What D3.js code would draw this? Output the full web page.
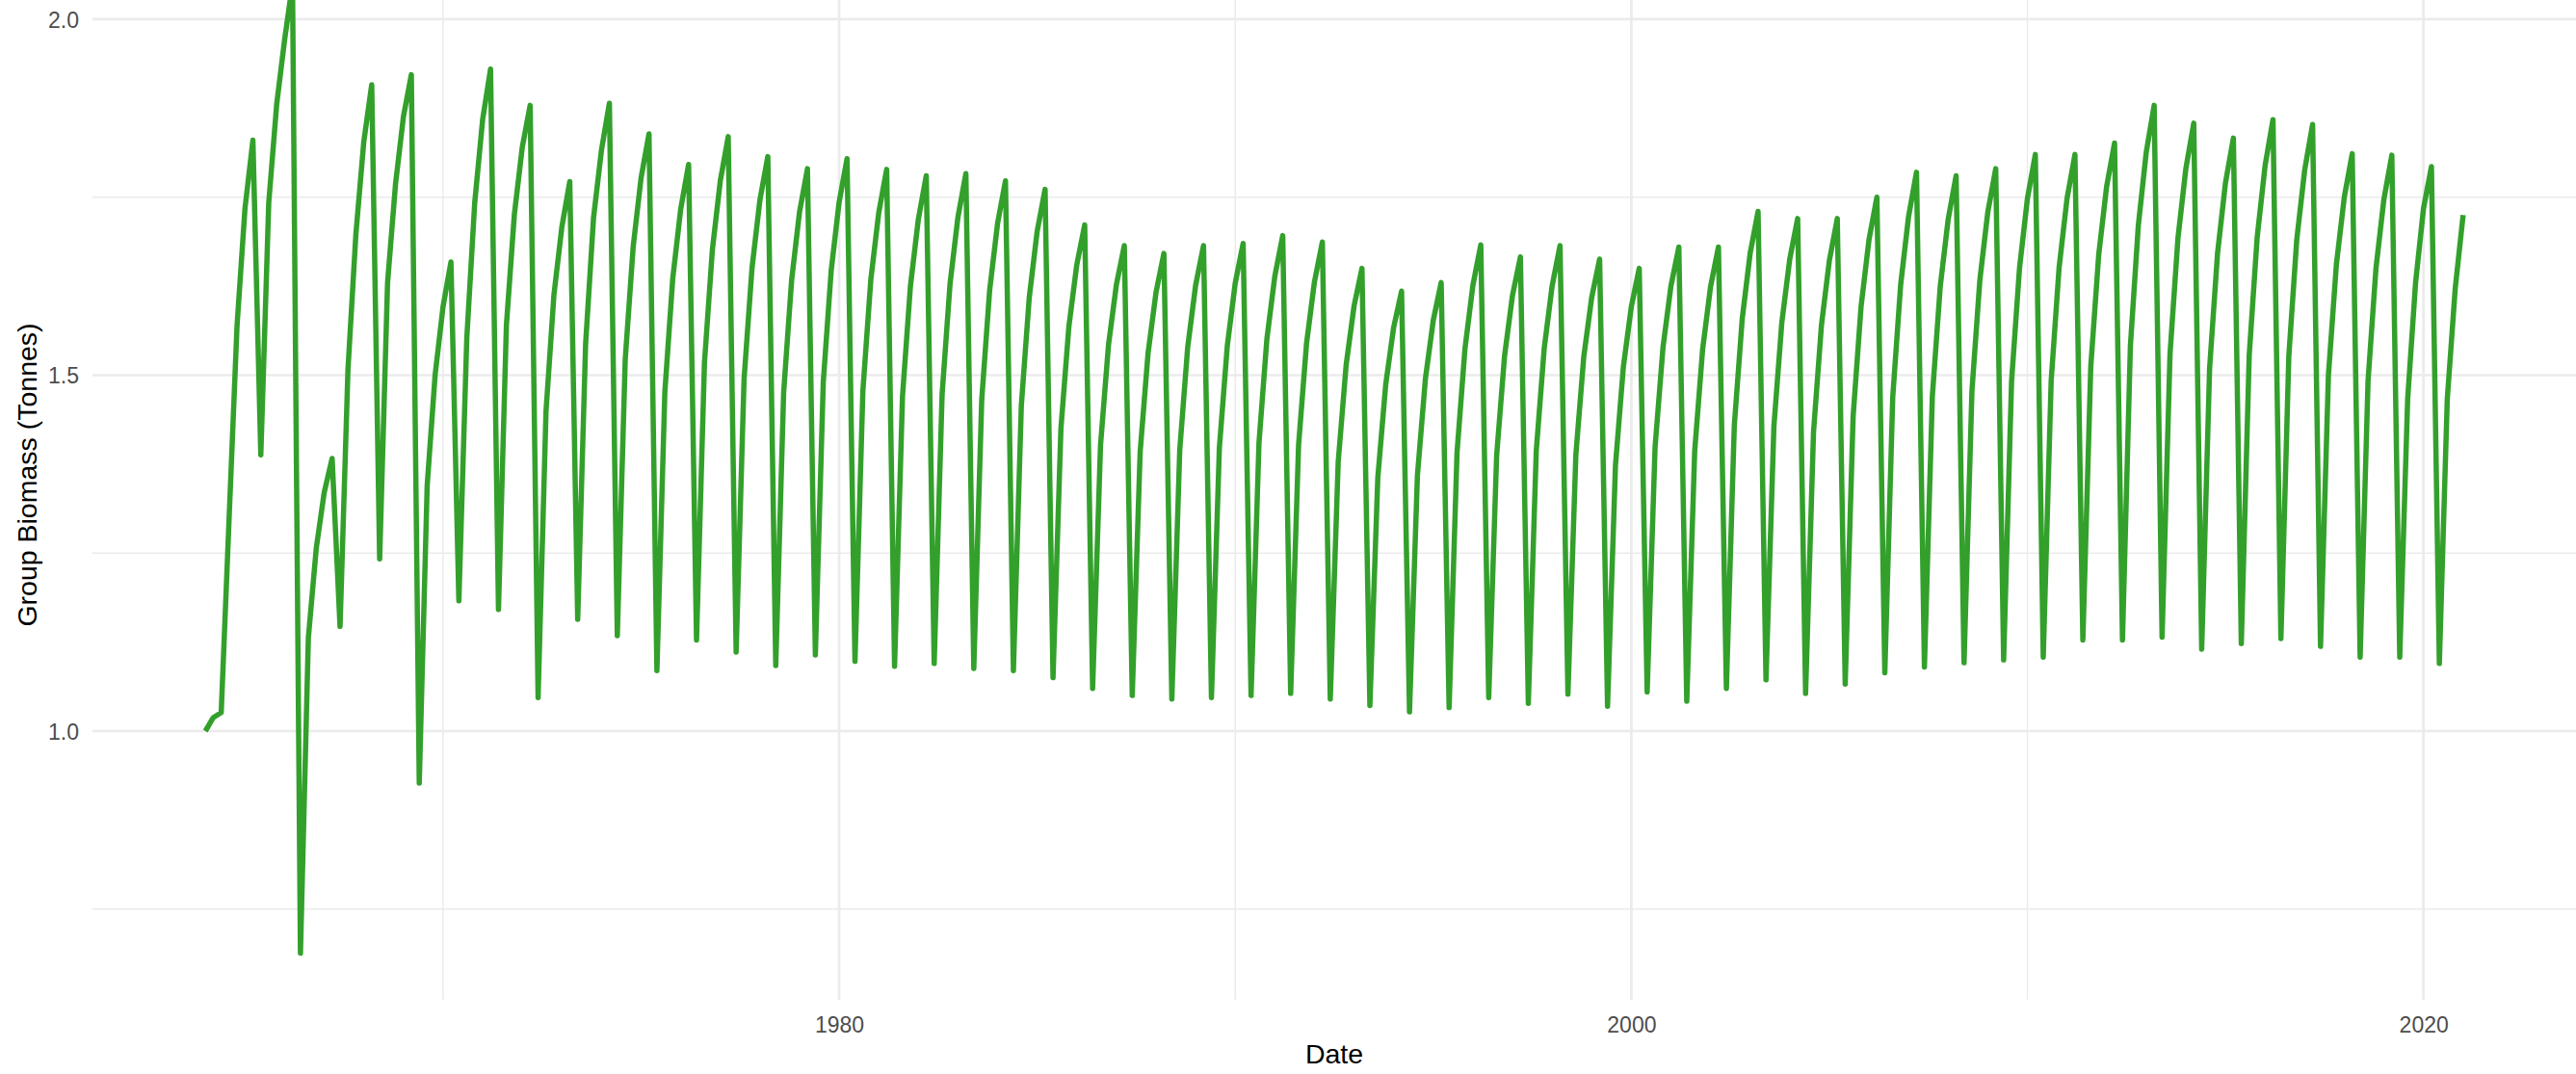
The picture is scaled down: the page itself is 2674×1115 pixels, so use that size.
<!DOCTYPE html>
<html>
<head>
<meta charset="utf-8">
<script src="https://cdn.jsdelivr.net/npm/d3@7"></script>
<style>
  html, body { margin: 0; padding: 0; background: #ffffff; }
  svg { display: block; }
  text { font-family: "Liberation Sans", Arial, "DejaVu Sans", sans-serif; }
</style>
</head>
<body>
<svg id="chart" width="2674" height="1115"></svg>
<script>
// ---------------- data ----------------
// first three samples of 1964 (t = 1964.0, 1964.2, 1964.4)
const startValues = [1.000, 1.019, 1.026];

// annual peak (t = Y + 0.2) for Y = 1965 .. 2020
const peakValues = [
  1.830, 2.050, 1.383, 1.908, 1.922, 1.659, 1.930, 1.879, 1.772, 1.882,
  1.839, 1.796, 1.835, 1.807, 1.790,
  1.804, 1.789, 1.780, 1.783, 1.773,
  1.761, 1.711, 1.682, 1.671, 1.682,
  1.685, 1.696, 1.687, 1.650, 1.618,
  1.630, 1.683, 1.666, 1.682, 1.663,
  1.650, 1.680, 1.680, 1.730, 1.720,
  1.720, 1.750, 1.785, 1.780, 1.790,
  1.810, 1.810, 1.826, 1.879, 1.854,
  1.833, 1.859, 1.852, 1.811, 1.809,
  1.793
];

// annual trough (t = Y + 0.4) for Y = 1965 .. 2020
const troughValues = [
  1.388, 0.688, 1.147, 1.242, 0.927, 1.183, 1.171, 1.047, 1.157, 1.134,
  1.085, 1.128, 1.111, 1.092, 1.107,
  1.098, 1.091, 1.095, 1.088, 1.085,
  1.075, 1.060, 1.050, 1.045, 1.047,
  1.050, 1.053, 1.045, 1.036, 1.027,
  1.033, 1.047, 1.039, 1.052, 1.035,
  1.055, 1.042, 1.060, 1.072, 1.053,
  1.066, 1.082, 1.090, 1.096, 1.100,
  1.104, 1.128, 1.128, 1.132, 1.115,
  1.123, 1.130, 1.119, 1.104, 1.104,
  1.095
];

// rising samples after each trough, for Y = 1964 .. 2020
// riseA at t = Y + 0.6, riseB at t = Y + 0.8, riseC at t = Y + 1.0
const riseA = [
  1.300, 1.742, 1.131, 1.508, 1.630, 1.345, 1.552, 1.570, 1.449, 1.544,
  1.522, 1.476, 1.517, 1.494, 1.476, 1.490,
  1.478, 1.470, 1.473, 1.465, 1.457,
  1.425, 1.402, 1.392, 1.395, 1.398,
  1.405, 1.402, 1.378, 1.356, 1.359,
  1.391, 1.387, 1.393, 1.388, 1.373,
  1.399, 1.393, 1.429, 1.428, 1.420,
  1.442, 1.469, 1.470, 1.478, 1.491,
  1.492, 1.512, 1.541, 1.529, 1.510,
  1.528, 1.527, 1.500, 1.492, 1.466,
  1.466
];
const riseB = [
  1.570, 1.880, 1.257, 1.698, 1.768, 1.500, 1.742, 1.725, 1.613, 1.721,
  1.680, 1.636, 1.676, 1.650, 1.633, 1.647,
  1.634, 1.625, 1.628, 1.619, 1.609,
  1.568, 1.542, 1.531, 1.539, 1.541,
  1.551, 1.544, 1.514, 1.487, 1.494,
  1.537, 1.527, 1.537, 1.526, 1.512,
  1.539, 1.536, 1.579, 1.574, 1.570,
  1.596, 1.627, 1.625, 1.634, 1.650,
  1.651, 1.669, 1.710, 1.692, 1.671,
  1.693, 1.690, 1.655, 1.650, 1.630,
  1.621
];
const riseC = [
  1.734, 1.971, 1.335, 1.828, 1.863, 1.596, 1.859, 1.820, 1.708, 1.816,
  1.777, 1.733, 1.773, 1.746, 1.729, 1.743,
  1.728, 1.719, 1.722, 1.713, 1.702,
  1.655, 1.627, 1.616, 1.626, 1.629,
  1.639, 1.631, 1.597, 1.567, 1.577,
  1.626, 1.612, 1.625, 1.609, 1.596,
  1.625, 1.624, 1.671, 1.663, 1.661,
  1.690, 1.723, 1.719, 1.729, 1.748,
  1.748, 1.765, 1.813, 1.790, 1.770,
  1.794, 1.788, 1.750, 1.747, 1.734,
  1.725
];

const startYear = 1964;
const xMajorTicks = [1980, 2000, 2020];
const xMinorTicks = [1970, 1990, 2010];
const yMajorTicks = [1.0, 1.5, 2.0];
const yMinorTicks = [0.75, 1.25, 1.75];
const xTitle = "Date";
const yTitle = "Group Biomass (Tonnes)";
const lineColor = "#33a02c";

// ---------------- build the series ----------------
const series = [];
startValues.forEach((v, i) => series.push({ t: startYear + 0.2 * i, v }));
for (let k = 0; k < riseA.length; k++) {
  const Y = startYear + k;
  series.push({ t: Y + 0.6, v: riseA[k] });
  series.push({ t: Y + 0.8, v: riseB[k] });
  series.push({ t: Y + 1.0, v: riseC[k] });
  if (k < peakValues.length) {
    series.push({ t: Y + 1.2, v: peakValues[k] });
    series.push({ t: Y + 1.4, v: troughValues[k] });
  }
}

// ---------------- layout ----------------
const W = 2674, H = 1115;
const panel = { left: 96, right: 2674, top: 0, bottom: 1038 };

const tExt = d3.extent(series, d => d.t);
const tPad = (tExt[1] - tExt[0]) * 0.05;
const x = d3.scaleLinear()
  .domain([tExt[0] - tPad, tExt[1] + tPad])
  .range([panel.left, panel.right]);

const y = d3.scaleLinear()
  .domain([0.6225, 2.027])
  .range([panel.bottom, panel.top]);

const svg = d3.select("#chart");
svg.append("rect").attr("width", W).attr("height", H).attr("fill", "#ffffff");

const grid = svg.append("g");
// minor grid
grid.selectAll(".ymin").data(yMinorTicks).enter().append("line")
  .attr("x1", panel.left).attr("x2", panel.right)
  .attr("y1", d => y(d)).attr("y2", d => y(d))
  .attr("stroke", "#ebebeb").attr("stroke-width", 1.4);
grid.selectAll(".xmin").data(xMinorTicks).enter().append("line")
  .attr("x1", d => x(d)).attr("x2", d => x(d))
  .attr("y1", panel.top).attr("y2", panel.bottom)
  .attr("stroke", "#ebebeb").attr("stroke-width", 1.4);
// major grid
grid.selectAll(".ymaj").data(yMajorTicks).enter().append("line")
  .attr("x1", panel.left).attr("x2", panel.right)
  .attr("y1", d => y(d)).attr("y2", d => y(d))
  .attr("stroke", "#ebebeb").attr("stroke-width", 2.7);
grid.selectAll(".xmaj").data(xMajorTicks).enter().append("line")
  .attr("x1", d => x(d)).attr("x2", d => x(d))
  .attr("y1", panel.top).attr("y2", panel.bottom)
  .attr("stroke", "#ebebeb").attr("stroke-width", 2.7);

// line
svg.append("defs").append("clipPath").attr("id", "clip")
  .append("rect").attr("x", panel.left).attr("y", -50)
  .attr("width", panel.right - panel.left).attr("height", panel.bottom + 50);

const line = d3.line().x(d => x(d.t)).y(d => y(d.v));
svg.append("path")
  .datum(series)
  .attr("clip-path", "url(#clip)")
  .attr("d", line)
  .attr("fill", "none")
  .attr("stroke", lineColor)
  .attr("stroke-width", 5.5)
  .attr("stroke-linejoin", "round")
  .attr("stroke-linecap", "butt");

// axes (labels only, theme_minimal style)
const xAxis = d3.axisBottom(x).tickValues(xMajorTicks).tickFormat(d3.format("d")).tickSize(0).tickPadding(0);
const gx = svg.append("g").attr("transform", `translate(0,${panel.bottom})`).call(xAxis);
gx.select(".domain").remove();
gx.selectAll("text")
  .attr("y", 34).attr("dy", 0)
  .attr("fill", "#4d4d4d").style("font-size", "23px");

const yAxis = d3.axisLeft(y).tickValues(yMajorTicks).tickFormat(d3.format(".1f")).tickSize(0).tickPadding(0);
const gy = svg.append("g").attr("transform", `translate(${panel.left},0)`).call(yAxis);
gy.select(".domain").remove();
gy.selectAll("text")
  .attr("x", -14).attr("dy", "0.35em")
  .attr("fill", "#4d4d4d").style("font-size", "23px");

// titles
svg.append("text")
  .attr("x", (panel.left + panel.right) / 2).attr("y", 1104)
  .attr("text-anchor", "middle").attr("fill", "#000000")
  .style("font-size", "28.5px").text(xTitle);

svg.append("text")
  .attr("transform", `translate(38,493) rotate(-90)`)
  .attr("text-anchor", "middle").attr("fill", "#000000")
  .style("font-size", "28.5px").text(yTitle);
</script>
</body>
</html>
